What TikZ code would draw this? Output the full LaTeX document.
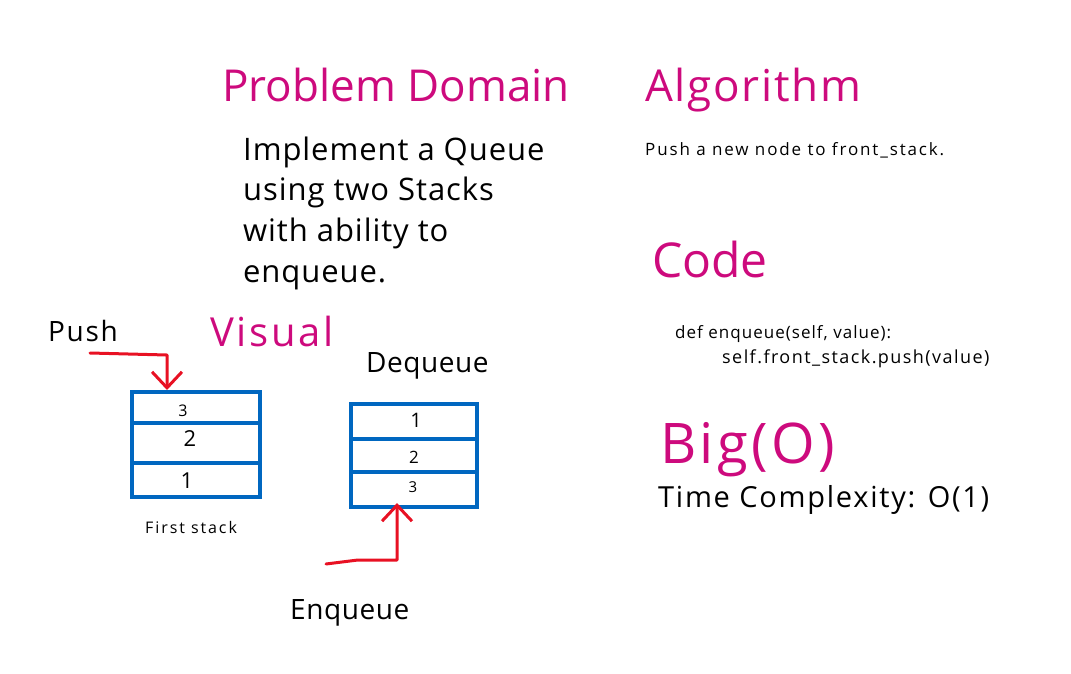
\documentclass[tikz,border=0pt]{standalone}
\usepackage{fontspec}
\setmainfont{Open Sans}
\usetikzlibrary{arrows.meta}
\definecolor{mag}{RGB}{205,10,125}
\definecolor{stackblue}{RGB}{0,103,192}
\definecolor{arrred}{RGB}{232,17,35}
\newcommand{\fs}[3]{\fontsize{#1}{#2}\selectfont\addfontfeature{LetterSpace=#3}}
\tikzset{
  txt/.style={inner sep=0pt, anchor=base west, text=black},
  title/.style={txt, text=mag},
  cell/.style={draw=stackblue, line width=3.5pt, inner sep=0pt, anchor=north west},
  num/.style={inner sep=0pt, anchor=center},
  redarrow/.style={draw=arrred, line width=3pt, line cap=round, line join=round,
    -{Straight Barb[length=16pt,width=30pt,line width=3pt]}},
}
\begin{document}
\begin{tikzpicture}[x=1pt,y=-1pt]
\useasboundingbox (0,0) rectangle (1071,673);
% titles
\node[title, font=\fs{44}{52}{0}] (pdt) at (222,101) {Problem Domain};
\node[title, font=\fs{44}{52}{4}] (algt) at (645,101) {Algorithm};
\node[title, font=\fs{48}{60}{0}] (codet) at (652,277) {Code};
\node[title, font=\fs{56}{62}{6}] (bigt) at (660,463) {Big(O)};
\node[title, font=\fs{40}{48}{7}] (vist) at (210,346) {Visual};
% problem domain text
\node[txt, font=\fs{31}{40}{3}] (pd1) at (243,160) {Implement a Queue};
\node[txt, font=\fs{31}{40}{3}] (pd2) at (243,200) {using two Stacks};
\node[txt, font=\fs{31}{40}{3}] (pd3) at (243,241) {with ability to};
\node[txt, font=\fs{31}{40}{3}] (pd4) at (243,282) {enqueue.};
% algorithm
\node[txt, font=\fs{17}{20}{11}] (alg) at (645,155) {Push a new node to front\_stack.};
% code
\node[txt, font=\fs{17}{20}{6}] (c1) at (675,338) {def enqueue(self, value):};
\node[txt, font=\fs{18}{20}{8}] (c2) at (722,363) {self.front\_stack.push(value)};
% big O
\node[txt, font=\fs{29}{34}{6}] (tc) at (658,507) {Time Complexity: O(1)};
% labels
\node[txt, font=\fs{28}{34}{6}] (push) at (48,341) {Push};
\node[txt, font=\fs{28}{34}{2}] (deq) at (366,372) {Dequeue};
\node[txt, font=\fs{28}{34}{2}] (enq) at (290,619) {Enqueue};
\node[txt, font=\fs{16}{20}{12}] (fs) at (145,533) {First stack};
% first stack
\node[cell, minimum width=128pt, minimum height=31pt] (a3) at (130,390) {};
\node[cell, minimum width=128pt, minimum height=40pt] (a2) at (130,421) {};
\node[cell, minimum width=128pt, minimum height=34pt] (a1) at (130,461) {};
\node[num, font=\fs{16}{20}{0}] (a3n) at (183,411) {3};
\node[num, font=\fs{22}{26}{0}] (a2n) at (190,439) {2};
\node[num, font=\fs{22}{26}{0}] (a1n) at (187,481) {1};
% second stack
\node[cell, minimum width=126pt, minimum height=35pt] (b1) at (349,402) {};
\node[cell, minimum width=126pt, minimum height=33pt] (b2) at (349,437) {};
\node[cell, minimum width=126pt, minimum height=35pt] (b3) at (349,470) {};
\node[num, font=\fs{20}{24}{0}] (b1n) at (416,420) {1};
\node[num, font=\fs{17}{20}{0}] (b2n) at (414,457) {2};
\node[num, font=\fs{15}{18}{0}] (b3n) at (413,487) {3};
% push arrow
\coordinate (ps) at (90,353);
\coordinate (pc) at (167,355);
\coordinate (pt) at (167,390);
\draw[redarrow] (ps) -- (pc) -- (pt);
% enqueue arrow
\coordinate (es) at (326,564);
\coordinate (em) at (358,560);
\coordinate (ec) at (397,560);
\coordinate (et) at (397,503);
\draw[redarrow] (es) -- (em) -- (ec) -- (et);
\end{tikzpicture}
\end{document}
